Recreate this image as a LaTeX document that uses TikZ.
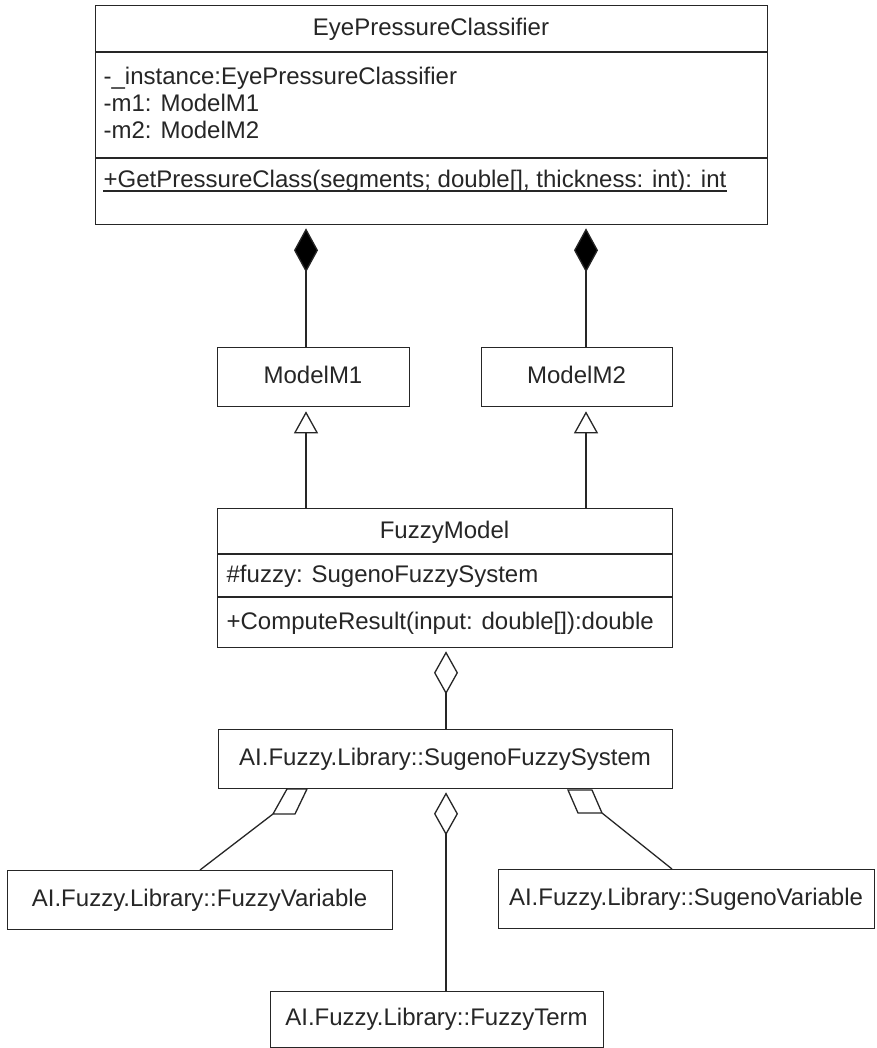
\documentclass[tikz,border=0pt]{standalone}
\usepackage{fontspec}
\setmainfont{Liberation Sans}
\usetikzlibrary{arrows.meta}
\begin{document}
\begin{tikzpicture}[x=1pt,y=-1pt,line width=1.3pt,
  umlbox/.style={draw=black!85,fill=white,rectangle,inner sep=0pt,anchor=north west},
  umltxt/.style={inner sep=0pt,text=black!85,font=\fontsize{24}{28}\selectfont},
  compos/.style={arrows={{Diamond[fill=black,length=44pt,width=24pt]}-},shorten <=3pt},
  aggr/.style={arrows={{Diamond[fill=white,length=43pt,width=24pt]}-},shorten <=3pt},
  inher/.style={arrows={{Triangle[fill=white,length=22pt,width=24pt]}-},shorten <=4pt},
  lnk/.style={draw=black!85}]
\useasboundingbox (0,0) rectangle (876,1048);
\fill[white] (0,0) rectangle (876,1048);
% boxes
\node[umlbox,minimum width=672pt,minimum height=219pt] (epc) at (95,5) {};
\node[umlbox,minimum width=192pt,minimum height=59pt] (m1) at (217,347) {};
\node[umlbox,minimum width=191pt,minimum height=59pt] (m2) at (481,347) {};
\node[umlbox,minimum width=455pt,minimum height=139pt] (fm) at (217,508) {};
\node[umlbox,minimum width=454pt,minimum height=59pt] (sfs) at (218,729) {};
\node[umlbox,minimum width=385pt,minimum height=59pt] (fv) at (7,870) {};
\node[umlbox,minimum width=376pt,minimum height=59pt] (sv) at (498,869) {};
\node[umlbox,minimum width=333pt,minimum height=56pt] (ft) at (270,991) {};
% compartments
\draw[lnk] (95,52) -- (767,52);
\draw[lnk] (95,158) -- (767,158);
\draw[lnk] (217,554) -- (672,554);
\draw[lnk] (217,597) -- (672,597);
% texts
\node[umltxt,anchor=base] (t1) at (431,36) {EyePressureClassifier};
\node[umltxt,anchor=base west] (a1) at (103,85) {-\_instance:EyePressureClassifier};
\node[umltxt,anchor=base west] (a2) at (103,112) {-m1: ModelM1};
\node[umltxt,anchor=base west] (a3) at (103,139) {-m2: ModelM2};
\node[umltxt,anchor=base west] (op1) at (103,188) {+GetPressureClass(segments; double[], thickness: int): int};
\draw[lnk,line width=1.2pt] ([yshift=-3pt]op1.base west) -- ([yshift=-3pt]op1.base east);
\node[umltxt,anchor=base] (t2) at (313,383) {ModelM1};
\node[umltxt,anchor=base] (t3) at (576.5,383) {ModelM2};
\node[umltxt,anchor=base] (t4) at (444.5,538) {FuzzyModel};
\node[umltxt,anchor=base west] (a4) at (226,582) {\#fuzzy: SugenoFuzzySystem};
\node[umltxt,anchor=base west] (op2) at (226,629) {+ComputeResult(input: double[]):double};
\node[umltxt,anchor=base] (t5) at (445,765) {AI.Fuzzy.Library::SugenoFuzzySystem};
\node[umltxt,anchor=base] (t6) at (199.5,906) {AI.Fuzzy.Library::FuzzyVariable};
\node[umltxt,anchor=base] (t7) at (686,905) {AI.Fuzzy.Library::SugenoVariable};
\node[umltxt,anchor=base] (t8) at (436.5,1025) {AI.Fuzzy.Library::FuzzyTerm};
% connector x positions
\coordinate (xa) at (306,0);
\coordinate (xb) at (586,0);
\coordinate (xc) at (446,0);
\draw[lnk,compos] (epc.south -| xa) -- (m1.north -| xa);
\draw[lnk,compos] (epc.south -| xb) -- (m2.north -| xb);
\draw[lnk,inher] (m1.south -| xa) -- (fm.north -| xa);
\draw[lnk,inher] (m2.south -| xb) -- (fm.north -| xb);
\draw[lnk,aggr] (fm.south -| xc) -- (sfs.north -| xc);
\draw[lnk,aggr] (sfs.south -| xc) -- (ft.north -| xc);
% slanted aggregation ends
\coordinate (pl) at (273,814);
\coordinate (pr) at (602,813);
\coordinate (fvtop) at (200,870);
\coordinate (svtop) at (672,869);
\draw[lnk,line join=miter] (287,789) -- (307,789) -- (295,814) -- (pl) -- cycle;
\draw[lnk,line join=miter] (568,790) -- (592,790) -- (pr) -- (578,813) -- cycle;
\draw[lnk] (pl) -- (fvtop);
\draw[lnk] (pr) -- (svtop);
\end{tikzpicture}
\end{document}
